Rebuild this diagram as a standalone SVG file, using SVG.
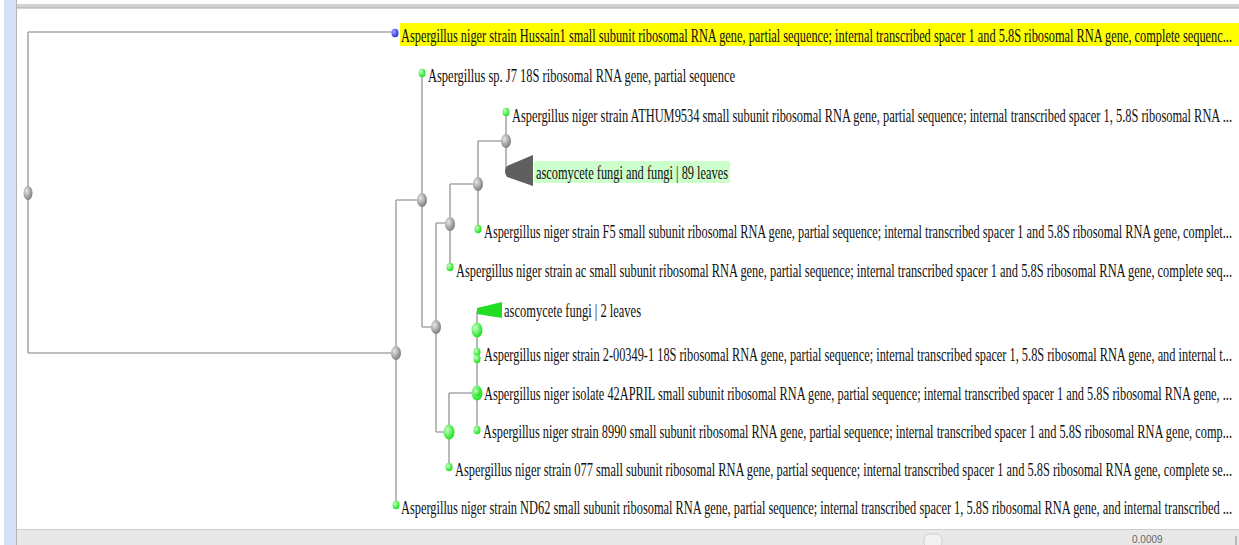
<svg xmlns="http://www.w3.org/2000/svg" width="1239" height="545" viewBox="0 0 1239 545">
<defs>
<radialGradient id="gGray" cx="0.35" cy="0.35" r="0.7">
<stop offset="0" stop-color="#e6e6e6"/><stop offset="1" stop-color="#7a7a7a"/>
</radialGradient>
<radialGradient id="gGreen" cx="0.35" cy="0.35" r="0.7">
<stop offset="0" stop-color="#c8ffc8"/><stop offset="1" stop-color="#14e014"/>
</radialGradient>
<radialGradient id="gBlue" cx="0.35" cy="0.35" r="0.7">
<stop offset="0" stop-color="#a0a8ff"/><stop offset="1" stop-color="#1a2ae0"/>
</radialGradient>
<style>
.br{fill:none;stroke:#a8a8a8;stroke-width:1.6}
.t{font-family:"Liberation Serif","Times New Roman",serif;font-size:11px;fill:#111111}
.ng{fill:url(#gGray)}
.ngr{fill:url(#gGreen)}
.lf{fill:url(#gGreen)}
</style>
</defs>
<rect width="1239" height="545" fill="#ffffff"/>
<rect x="4" y="0" width="12" height="545" fill="#d4e1f7"/>
<line x1="16.5" y1="0" x2="16.5" y2="545" stroke="#b4b4b4" stroke-width="1"/>
<rect x="17" y="4" width="1222" height="4" fill="#d2d2d2"/>
<line x1="17" y1="8" x2="1239" y2="8" stroke="#a8a8a8" stroke-width="1"/>
<rect x="17" y="529" width="1222" height="16" fill="#e8e8e8"/>
<line x1="17" y1="529.5" x2="1239" y2="529.5" stroke="#cfcfcf" stroke-width="1"/>
<rect x="924" y="534" width="18" height="14" rx="6" fill="#f2f2f2" stroke="#cfcfcf"/>
<text x="1132" y="543" style="font-family:'Liberation Sans',Arial,sans-serif;font-size:10px;fill:#666">0.0009</text>
<line x1="1236" y1="536" x2="1236" y2="545" stroke="#888" stroke-width="1"/>

<g id="connectors">
<path class="br" d="M28,32 V353 M28,32 H395 M28,353 H396"/>
<path class="br" d="M396,200 V505 M396,200 H422"/>
<path class="br" d="M422,73 V327 M422,327 H436"/>
<path class="br" d="M436,223 V432 M436,223 H450 M436,432 H449"/>
<path class="br" d="M450,184 V267 M450,184 H478"/>
<path class="br" d="M478,141 V229 M478,141 H506"/>
<path class="br" d="M506,112 V171"/>
<path class="br" d="M449,393 V467 M449,393 H477"/>
<path class="br" d="M477,311 V430"/>
</g>

<g id="node-root"><ellipse class="ng" cx="28" cy="193" rx="4.5" ry="7"/></g>
<g id="node-a"><ellipse class="ng" cx="396" cy="353" rx="5" ry="7"/></g>
<g id="node-b"><ellipse class="ng" cx="422" cy="200" rx="5" ry="7"/></g>
<g id="node-c"><ellipse class="ng" cx="436" cy="327" rx="5" ry="7"/></g>
<g id="node-d"><ellipse class="ng" cx="450" cy="224" rx="5" ry="7"/></g>
<g id="node-e"><ellipse class="ng" cx="478" cy="184" rx="5" ry="7"/></g>
<g id="node-f"><ellipse class="ng" cx="506" cy="141" rx="5" ry="7"/></g>
<g id="node-g"><ellipse class="ngr" cx="449" cy="432" rx="5.5" ry="7.5"/></g>
<g id="node-h"><ellipse class="ngr" cx="477" cy="393" rx="5.5" ry="7.5"/></g>
<g id="node-i"><ellipse class="ngr" cx="477" cy="330" rx="5.5" ry="7.5"/></g>

<g id="leaf-hussain1">
<rect x="400" y="23" width="839" height="23" fill="#ffff00"/>
<ellipse cx="395" cy="33" rx="3.5" ry="4.2" fill="url(#gBlue)"/>
<text class="t" transform="matrix(1 0 0 1.727 401 42)" textLength="831" lengthAdjust="spacingAndGlyphs">Aspergillus niger strain Hussain1 small subunit ribosomal RNA gene, partial sequence; internal transcribed spacer 1 and 5.8S ribosomal RNA gene, complete sequenc...</text>
</g>
<g id="leaf-j7">
<ellipse class="lf" cx="422" cy="73" rx="3.5" ry="4.2"/>
<text class="t" transform="matrix(1 0 0 1.727 428 82)" textLength="307" lengthAdjust="spacingAndGlyphs">Aspergillus sp. J7 18S ribosomal RNA gene, partial sequence</text>
</g>
<g id="leaf-athum9534">
<ellipse class="lf" cx="506" cy="112" rx="3.5" ry="4.2"/>
<text class="t" transform="matrix(1 0 0 1.727 512 122)" textLength="720" lengthAdjust="spacingAndGlyphs">Aspergillus niger strain ATHUM9534 small subunit ribosomal RNA gene, partial sequence; internal transcribed spacer 1, 5.8S ribosomal RNA ...</text>
</g>
<g id="clade-89">
<path d="M507,166 L533,155 L533,186 L507,177 Q503,171.5 507,166 Z" fill="#5f5f5f"/>
<rect x="534" y="161" width="196" height="22" fill="#ccffcc"/>
<text class="t" transform="matrix(1 0 0 1.727 536 179)" textLength="192" lengthAdjust="spacingAndGlyphs">ascomycete fungi and fungi | 89 leaves</text>
</g>
<g id="leaf-f5">
<ellipse class="lf" cx="478" cy="229" rx="3.5" ry="4.2"/>
<text class="t" transform="matrix(1 0 0 1.727 484 238)" textLength="748" lengthAdjust="spacingAndGlyphs">Aspergillus niger strain F5 small subunit ribosomal RNA gene, partial sequence; internal transcribed spacer 1 and 5.8S ribosomal RNA gene, complet...</text>
</g>
<g id="leaf-ac">
<ellipse class="lf" cx="450" cy="267" rx="3.5" ry="4.2"/>
<text class="t" transform="matrix(1 0 0 1.727 456 277)" textLength="776" lengthAdjust="spacingAndGlyphs">Aspergillus niger strain ac small subunit ribosomal RNA gene, partial sequence; internal transcribed spacer 1 and 5.8S ribosomal RNA gene, complete seq...</text>
</g>
<g id="clade-2">
<path d="M477,308 L502,302 L502,318 L477,314 Z" fill="#22dd22"/>
<text class="t" transform="matrix(1 0 0 1.727 504 317)" textLength="137" lengthAdjust="spacingAndGlyphs">ascomycete fungi | 2 leaves</text>
</g>
<g id="leaf-2-00349-1">
<ellipse class="lf" cx="477" cy="352" rx="3.5" ry="4.2"/>
<ellipse class="lf" cx="477" cy="359" rx="3.5" ry="4.2"/>
<text class="t" transform="matrix(1 0 0 1.727 484 361)" textLength="748" lengthAdjust="spacingAndGlyphs">Aspergillus niger strain 2-00349-1 18S ribosomal RNA gene, partial sequence; internal transcribed spacer 1, 5.8S ribosomal RNA gene, and internal t...</text>
</g>
<g id="leaf-42april">
<ellipse class="lf" cx="477" cy="392" rx="3.5" ry="4.2"/>
<text class="t" transform="matrix(1 0 0 1.727 484 400)" textLength="748" lengthAdjust="spacingAndGlyphs">Aspergillus niger isolate 42APRIL small subunit ribosomal RNA gene, partial sequence; internal transcribed spacer 1 and 5.8S ribosomal RNA gene, ...</text>
</g>
<g id="leaf-8990">
<ellipse class="lf" cx="477" cy="430" rx="3.5" ry="4.2"/>
<text class="t" transform="matrix(1 0 0 1.727 483 438)" textLength="749" lengthAdjust="spacingAndGlyphs">Aspergillus niger strain 8990 small subunit ribosomal RNA gene, partial sequence; internal transcribed spacer 1 and 5.8S ribosomal RNA gene, comp...</text>
</g>
<g id="leaf-077">
<ellipse class="lf" cx="449" cy="467" rx="3.5" ry="4.2"/>
<text class="t" transform="matrix(1 0 0 1.727 455 476)" textLength="777" lengthAdjust="spacingAndGlyphs">Aspergillus niger strain 077 small subunit ribosomal RNA gene, partial sequence; internal transcribed spacer 1 and 5.8S ribosomal RNA gene, complete se...</text>
</g>
<g id="leaf-nd62">
<ellipse class="lf" cx="396" cy="505" rx="3.5" ry="4.2"/>
<text class="t" transform="matrix(1 0 0 1.727 401 514)" textLength="831" lengthAdjust="spacingAndGlyphs">Aspergillus niger strain ND62 small subunit ribosomal RNA gene, partial sequence; internal transcribed spacer 1, 5.8S ribosomal RNA gene, and internal transcribed ...</text>
</g>
</svg>
